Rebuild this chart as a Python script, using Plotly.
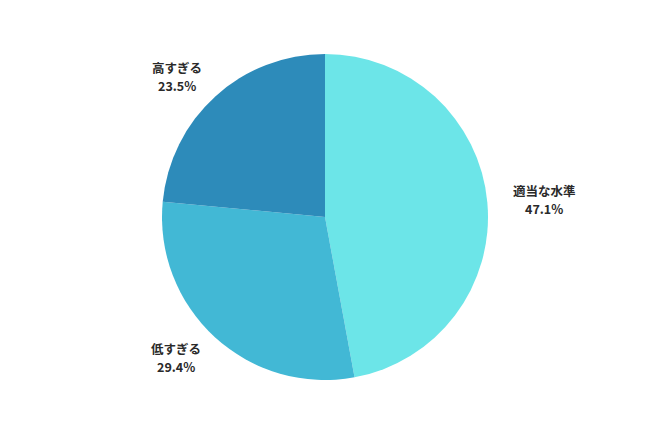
import math
import plotly.graph_objects as go

labels = ["適当な水準", "低すぎる", "高すぎる"]
values = [47.1, 29.4, 23.5]
colors = ["#6CE5E8", "#42B8D5", "#2D8BBA"]

W, H = 650, 434
cx, cy, r = 325, 217, 163

fig = go.Figure(go.Pie(
    labels=labels, values=values, sort=False, direction="clockwise", rotation=0,
    marker=dict(colors=colors, line=dict(width=0)),
    textinfo="none", hoverinfo="label+percent", showlegend=False,
    domain=dict(x=[(cx - r) / W, (cx + r) / W], y=[(H - cy - r) / H, (H - cy + r) / H]),
))

total = sum(values)
cum = 0
ann = []
font = dict(family="Noto Sans CJK JP", size=12.5, color="#2a2a2a")
for lab, v in zip(labels, values):
    mid = (cum + v / 2) / total * 2 * math.pi
    cum += v
    x = cx + 220 * math.sin(mid)
    y = (H - cy) + 190 * math.cos(mid)
    for txt, dy in ((lab, 9), (f"{v:.1f}%", -9)):
        ann.append(dict(x=x / W, y=(y + dy) / H, xref="paper", yref="paper", showarrow=False,
                        xanchor="center", yanchor="middle",
                        text=f"<b>{txt}</b>", font=font))

fig.update_layout(width=W, height=H, margin=dict(l=0, r=0, t=0, b=0),
                  paper_bgcolor="white", plot_bgcolor="white", annotations=ann)
fig.write_html("out.html", config={"displayModeBar": False},
               post_script="document.body.style.margin='0';")
